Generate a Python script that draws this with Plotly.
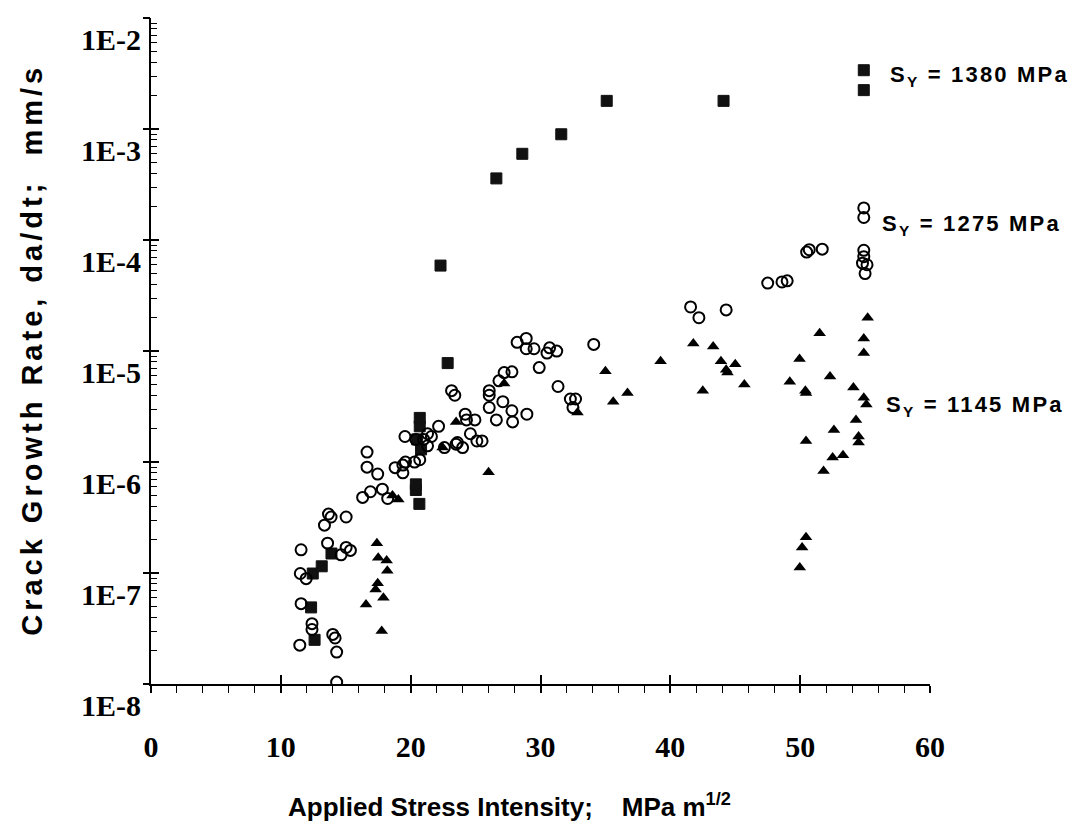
import math
import plotly.graph_objects as go

# ---- data ----
sq_x = [12.6, 12.33, 12.46, 13.15, 13.9, 20.67, 20.4, 20.4, 20.8, 20.5, 20.7, 20.7,
        22.85, 22.3, 26.6, 28.6, 31.6, 35.1, 44.1, 54.9, 54.9]
sq_y = [2.5e-8, 4.9e-8, 9.9e-8, 1.15e-7, 1.5e-7, 4.2e-7, 5.6e-7, 6.3e-7, 1.3e-6, 1.6e-6, 2.1e-6, 2.5e-6,
        7.8e-6, 5.9e-5, 3.6e-4, 6.0e-4, 9.0e-4, 1.8e-3, 1.8e-3, 2.25e-3, 3.4e-3]

ci_x = [11.56, 11.5, 11.95, 11.56, 12.4, 12.4, 11.46, 14.0, 14.18, 14.3, 14.3, 13.67, 13.87, 13.36,
        15.03, 13.6, 15.03, 15.36, 14.64, 16.64, 16.64, 17.46, 16.3, 16.9, 17.82, 18.23, 18.8, 19.4,
        19.4, 19.6, 19.56, 20.3, 20.7, 20.4, 21.0, 21.3, 21.6, 21.3, 22.15, 23.5, 23.15, 23.4, 24.2,
        24.3, 24.95, 24.6, 25.1, 25.5, 23.6, 24.0, 22.6, 26.05, 26.05, 26.05, 26.6, 26.8, 27.2, 27.8,
        27.1, 27.8, 27.85, 28.95, 28.2, 28.9, 28.9, 29.5, 30.7, 31.25, 30.5, 29.9, 31.35, 32.3, 32.7,
        32.5, 34.1, 41.56, 42.2, 44.3, 47.5, 48.6, 49.0, 50.5, 50.7, 51.7, 54.9, 54.9, 54.8, 55.15,
        55.0, 54.9, 54.9]
ci_y = [1.62e-7, 9.9e-8, 8.9e-8, 5.3e-8, 3.5e-8, 3.1e-8, 2.24e-8, 2.8e-8, 2.6e-8, 1.94e-8, 1.04e-8,
        3.4e-7, 3.2e-7, 2.7e-7, 3.2e-7, 1.86e-7, 1.7e-7, 1.6e-7, 1.46e-7, 1.23e-6, 9.0e-7, 7.8e-7,
        4.8e-7, 5.4e-7, 5.7e-7, 4.7e-7, 8.9e-7, 9.4e-7, 8.0e-7, 1.0e-6, 1.7e-6, 1.0e-6, 1.05e-6,
        1.6e-6, 1.6e-6, 1.8e-6, 1.7e-6, 1.4e-6, 2.1e-6, 1.45e-6, 4.4e-6, 4.0e-6, 2.7e-6, 2.4e-6,
        2.4e-6, 1.8e-6, 1.55e-6, 1.55e-6, 1.5e-6, 1.35e-6, 1.35e-6, 4.4e-6, 4.0e-6, 3.1e-6, 2.4e-6,
        5.4e-6, 6.4e-6, 6.5e-6, 3.5e-6, 2.9e-6, 2.3e-6, 2.7e-6, 1.2e-5, 1.3e-5, 1.05e-5, 1.05e-5,
        1.07e-5, 1.0e-5, 9.6e-6, 7.1e-6, 4.8e-6, 3.7e-6, 3.7e-6, 3.1e-6, 1.15e-5, 2.5e-5, 2.0e-5,
        2.35e-5, 4.1e-5, 4.2e-5, 4.3e-5, 7.8e-5, 8.2e-5, 8.3e-5, 8.1e-5, 7.1e-5, 6.2e-5, 6.0e-5,
        5.0e-5, 1.95e-4, 1.6e-4]

tr_x = [17.4, 17.5, 18.15, 18.2, 17.46, 17.3, 17.9, 16.56, 17.77, 18.6, 19.05, 22.46, 23.5, 26.0,
        27.2, 32.85, 35.0, 35.6, 36.7, 39.25, 41.77, 43.3, 43.9, 44.3, 44.4, 45.0, 42.5, 45.7, 51.5,
        49.95, 49.2, 50.4, 50.45, 52.3, 54.1, 54.9, 55.1, 55.2, 54.9, 54.9, 54.3, 54.5, 54.5, 52.6,
        50.45, 52.5, 53.3, 51.8, 50.45, 50.15, 49.97]
tr_y = [1.86e-7, 1.37e-7, 1.3e-7, 1.05e-7, 8.1e-8, 7.1e-8, 6.0e-8, 5.2e-8, 3.0e-8, 5.0e-7, 4.6e-7,
        1.35e-6, 2.3e-6, 8.1e-7, 5.1e-6, 2.8e-6, 6.6e-6, 3.5e-6, 4.2e-6, 8.1e-6, 1.17e-5, 1.1e-5,
        8.1e-6, 6.8e-6, 6.4e-6, 7.6e-6, 4.4e-6, 5.0e-6, 1.45e-5, 8.5e-6, 5.3e-6, 4.4e-6, 4.2e-6,
        5.9e-6, 4.7e-6, 3.8e-6, 3.3e-6, 2.0e-5, 1.3e-5, 9.6e-6, 2.4e-6, 1.7e-6, 1.5e-6, 1.95e-6,
        1.55e-6, 1.1e-6, 1.15e-6, 8.3e-7, 2.1e-7, 1.7e-7, 1.12e-7]

series_labels = ["S<sub>Y</sub> = 1380 MPa", "S<sub>Y</sub> = 1275 MPa", "S<sub>Y</sub> = 1145 MPa"]
label_y = [3.0e-3, 1.36e-4, 3.2e-6]

x_ticks = [0, 10, 20, 30, 40, 50, 60]
y_tickvals = [1e-8, 1e-7, 1e-6, 1e-5, 1e-4, 1e-3, 1e-2]
y_ticktext = ["1E-8", "1E-7", "1E-6", "1E-5", "1E-4", "1E-3", "1E-2"]

# ---- styles ----
label_shift = [-42, -50, -46]
serif = "Liberation Serif, Times New Roman, serif"
sans = "Liberation Sans, Arial, sans-serif"

fig = go.Figure()
fig.add_trace(go.Scatter(x=sq_x, y=sq_y, mode="markers", name="1380",
                         marker=dict(symbol="square", size=11, color="#111111",
                                     line=dict(color="#111111", width=1))))
fig.add_trace(go.Scatter(x=ci_x, y=ci_y, mode="markers", name="1275",
                         marker=dict(symbol="circle-open", size=11, color="black",
                                     line=dict(color="black", width=2))))
fig.add_trace(go.Scatter(x=tr_x, y=tr_y, mode="markers", name="1145",
                         marker=dict(symbol="triangle-up", size=11, color="black")))
# helper trace so that the overlay tick axes are drawn
fig.add_trace(go.Scatter(x=[x_ticks[0]], y=[y_tickvals[0]], xaxis="x2", yaxis="y2",
                         mode="markers", marker=dict(opacity=0), hoverinfo="skip", showlegend=False))

yr = [math.log10(y_tickvals[0]), math.log10(y_tickvals[-1]) + 0.002]

fig.update_layout(
    width=1092, height=834,
    paper_bgcolor="white", plot_bgcolor="white",
    margin=dict(l=143, r=170, t=10, b=158),
    showlegend=False,
    xaxis=dict(range=[0, 60], tickvals=x_ticks, ticks="outside", ticklen=7, tickwidth=1.5,
               tickcolor="black", showline=True, linecolor="black", linewidth=2,
               showgrid=False, zeroline=False, ticklabelstandoff=28,
               tickfont=dict(family=serif, size=30, color="black", weight="bold"),
               minor=dict(dtick=2, ticks="outside", ticklen=7, tickwidth=1.2, tickcolor="black",
                          showgrid=False)),
    yaxis=dict(type="log", range=yr, tickvals=y_tickvals, ticktext=y_ticktext,
               ticks="inside", ticklen=8, tickwidth=1.5, tickcolor="black",
               showline=True, linecolor="black", linewidth=2, showgrid=False, zeroline=False,
               tickfont=dict(family=serif, size=30, color="black", weight="bold"),
               ticklabelstandoff=2, ticklabelposition="outside bottom",
               ticklabeloverflow="allow",
               minor=dict(dtick="D1", ticks="inside", ticklen=6, tickwidth=1.2, tickcolor="black",
                          showgrid=False)),
    xaxis2=dict(overlaying="x", range=[0, 60], tickvals=x_ticks, ticks="inside", ticklen=9,
                tickwidth=1.5, tickcolor="black", showticklabels=False, showgrid=False,
                zeroline=False, showline=False, side="bottom"),
    yaxis2=dict(overlaying="y", type="log", range=yr, tickvals=y_tickvals, ticks="outside",
                ticklen=7, tickwidth=1.5, tickcolor="black", showticklabels=False,
                showgrid=False, zeroline=False, showline=False, side="left"),
)

# series labels at right
for txt, yv, sh in zip(series_labels, label_y, label_shift):
    fig.add_annotation(x=1.0, xref="paper", y=math.log10(yv), yref="y", xanchor="left",
                       yanchor="middle", xshift=sh,
                       text='<span style="letter-spacing:2.2px">' + txt + '</span>',
                       showarrow=False,
                       font=dict(family=sans, size=22, color="black", weight="bold"))

# axis titles
fig.add_annotation(xref="paper", yref="paper", x=0.46, y=-0.183, xanchor="center",
                   yanchor="middle",
                   text="Applied Stress Intensity;    MPa m<sup>1/2</sup>", showarrow=False,
                   font=dict(family=sans, size=26, color="black", weight="bold"))
fig.add_annotation(xref="paper", yref="paper", x=-0.153, y=0.5015, xanchor="center",
                   yanchor="middle", textangle=-90,
                   text='<span style="letter-spacing:4px">Crack Growth Rate, da/dt;  mm/s</span>',
                   showarrow=False,
                   font=dict(family=sans, size=29, color="black", weight="bold"))

fig.write_html("out.html")
